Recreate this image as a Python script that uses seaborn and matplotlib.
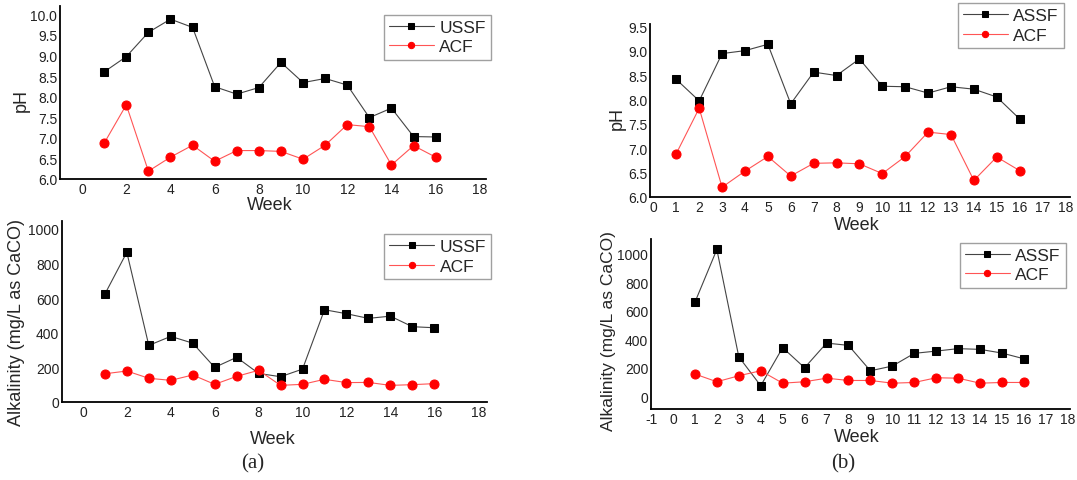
import numpy as np
import pandas as pd
import matplotlib
matplotlib.use('Agg')
import matplotlib.pyplot as plt
import seaborn as sns

weeks = list(range(1, 17))

# pH, panel (a)
ph_ussf = [8.60, 8.97, 9.56, 9.88, 9.68, 8.24, 8.06, 8.22, 8.83, 8.34, 8.44, 8.28, 7.49, 7.72, 7.03, 7.02]
ph_acf = [6.87, 7.80, 6.19, 6.53, 6.82, 6.43, 6.69, 6.69, 6.67, 6.48, 6.82, 7.32, 7.27, 6.34, 6.81, 6.53]

# pH, panel (b)
ph_assf = [8.41, 7.97, 8.94, 9.00, 9.13, 7.91, 8.56, 8.49, 8.83, 8.27, 8.26, 8.13, 8.26, 8.21, 8.05, 7.60]
ph_acf_b = [6.89, 7.82, 6.20, 6.53, 6.83, 6.43, 6.69, 6.70, 6.68, 6.48, 6.83, 7.33, 7.28, 6.34, 6.82, 6.54]

# alkalinity, panel (a)
alk_ussf = [623, 865, 327, 379, 340, 200, 258, 165, 146, 190, 533, 510, 483, 496, 435, 429]
alk_acf = [163, 179, 137, 125, 156, 102, 148, 183, 96, 102, 131, 112, 113, 96, 100, 106]

# alkalinity, panel (b)
alk_assf = [658, 1028, 276, 73, 340, 199, 372, 356, 178, 211, 300, 316, 333, 328, 302, 262]
alk_acf_b = [155, 101, 143, 178, 91, 101, 126, 110, 110, 91, 96, 129, 126, 91, 96, 96]

sns.set_style('white')
plt.rcParams['font.family'] = ['Liberation Sans', 'DejaVu Sans']
plt.rcParams['axes.unicode_minus'] = False

fig = plt.figure(figsize=(10.77, 4.81), dpi=100)

ax_tl = fig.add_axes([0.0557, 0.6258, 0.396, 0.3597])
ax_bl = fig.add_axes([0.0576, 0.1622, 0.3946, 0.376])
ax_tr = fig.add_axes([0.6035, 0.5884, 0.390, 0.360])
ax_br = fig.add_axes([0.6045, 0.1476, 0.389, 0.353])


def draw_panel(ax, filt_vals, acf_vals, filt_name):
    df = pd.DataFrame({'Week': weeks, filt_name: filt_vals, 'ACF': acf_vals})
    sns.lineplot(data=df, x='Week', y=filt_name, ax=ax, color='black', marker='s',
                 markersize=6, markeredgecolor='black', linewidth=0.8, label=filt_name)
    sns.lineplot(data=df, x='Week', y='ACF', ax=ax, color='red', marker='o',
                 markersize=6.5, markeredgecolor='red', linewidth=0.8, label='ACF')
    ax.lines[0].set_color('#444444')
    ax.lines[0].set_markerfacecolor('black')
    ax.lines[0].set_markeredgecolor('black')
    ax.lines[1].set_color('#ff5555')
    ax.lines[1].set_markerfacecolor('red')
    ax.lines[1].set_markeredgecolor('red')
    sns.despine(ax=ax)
    for s in ['left', 'bottom']:
        ax.spines[s].set_color('black')
        ax.spines[s].set_linewidth(1.3)
    ax.tick_params(length=0, labelsize=10, pad=2, colors='#222222')
    leg = ax.legend(loc='upper right', fontsize=12.5, frameon=True, fancybox=False,
                    edgecolor='#888888', handlelength=2.6, markerscale=0.7,
                    borderpad=0.3, labelspacing=0.25, handletextpad=0.3,
                    borderaxespad=0.0)
    leg.get_frame().set_linewidth(1.0)
    ax.set_xlabel('')
    ax.set_ylabel('')


draw_panel(ax_tl, ph_ussf, ph_acf, 'USSF')
ax_tl.set_xlim(-1, 18.3)
ax_tl.set_ylim(6.0, 10.2)
ax_tl.set_xticks(range(0, 19, 2))
ax_tl.set_yticks(np.arange(6.0, 10.01, 0.5))
ax_tl.set_yticklabels(['%.1f' % v for v in np.arange(6.0, 10.01, 0.5)])
ax_tl.legend_.set_bbox_to_anchor((1.01, 0.95))

draw_panel(ax_bl, alk_ussf, alk_acf, 'USSF')
ax_bl.set_xlim(-0.95, 18.4)
ax_bl.set_ylim(0, 1045)
ax_bl.set_xticks(range(0, 19, 2))
ax_bl.set_yticks(range(0, 1001, 200))
ax_bl.legend_.set_bbox_to_anchor((1.01, 0.93))

draw_panel(ax_tr, ph_assf, ph_acf_b, 'ASSF')
ax_tr.set_xlim(-0.15, 18.2)
ax_tr.set_ylim(6.0, 9.55)
ax_tr.set_xticks(range(0, 19))
ax_tr.set_yticks(np.arange(6.0, 9.51, 0.5))
ax_tr.set_yticklabels(['%.1f' % v for v in np.arange(6.0, 9.51, 0.5)])
ax_tr.legend_.set_bbox_to_anchor((0.985, 1.12))

draw_panel(ax_br, alk_assf, alk_acf_b, 'ASSF')
ax_br.set_xlim(-1.0, 18.1)
ax_br.set_ylim(-90, 1100)
ax_br.set_xticks(range(-1, 19))
ax_br.set_yticks(range(0, 1001, 200))
ax_br.legend_.set_bbox_to_anchor((0.99, 0.98))

# axis titles placed as in the source figure
fig.text(270 / 1077, 1 - 206 / 481, 'Week', ha='center', va='center', fontsize=13)
fig.text(857 / 1077, 1 - 226 / 481, 'Week', ha='center', va='center', fontsize=13)
fig.text(273 / 1077, 1 - 440 / 481, 'Week', ha='center', va='center', fontsize=13)
fig.text(857 / 1077, 1 - 438 / 481, 'Week', ha='center', va='center', fontsize=13)

fig.text(21 / 1077, 1 - 100 / 481, 'pH', ha='center', va='center', rotation=90, fontsize=13)
fig.text(617 / 1077, 1 - 118 / 481, 'pH', ha='center', va='center', rotation=90, fontsize=13)
fig.text(17 / 1077, 1 - 322 / 481, 'Alkalinity (mg/L as CaCO)', ha='center', va='center',
         rotation=90, fontsize=13)
fig.text(609 / 1077, 1 - 331 / 481, 'Alkalinity (mg/L as CaCO)', ha='center', va='center',
         rotation=90, fontsize=12.5)

fig.text(253 / 1077, 1 - 464 / 481, '(a)', ha='center', va='center', fontsize=15,
         family='Liberation Serif')
fig.text(843 / 1077, 1 - 464 / 481, '(b)', ha='center', va='center', fontsize=15,
         family='Liberation Serif')

fig.savefig('out.png', dpi=100)
